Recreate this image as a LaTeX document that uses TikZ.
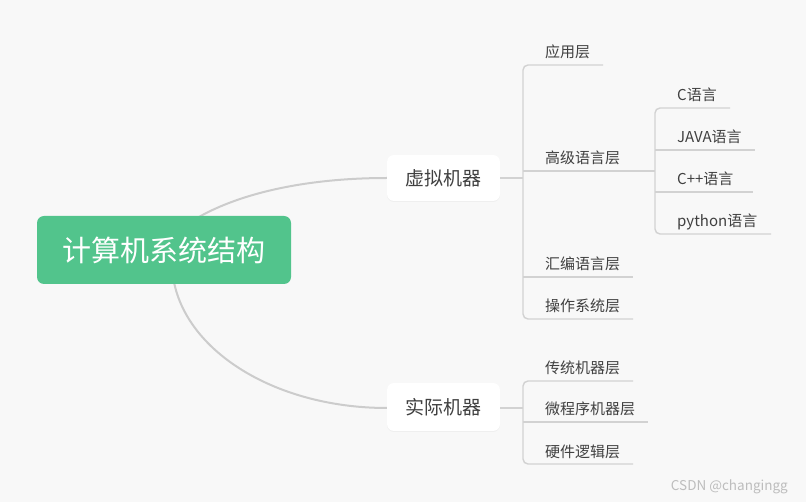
\documentclass[tikz,border=0pt]{standalone}
\usepackage{fontspec}
\setmainfont{Noto Sans CJK SC}
\usetikzlibrary{shadows}
\definecolor{bgc}{HTML}{F8F8F8}
\definecolor{rootg}{HTML}{52C48C}
\definecolor{linec}{HTML}{D2D2D2}
\definecolor{curvec}{HTML}{CCCCCC}
\definecolor{txtc}{HTML}{404040}
\definecolor{wmc}{HTML}{BDBDBD}
\tikzset{
  rootbox/.style={fill=rootg, rounded corners=7pt, minimum width=254pt, minimum height=68pt, text=white, font=\fontsize{29}{33}\selectfont, inner sep=0pt},
  midbox/.style={fill=white, rounded corners=7pt, minimum width=113pt, text=txtc, font=\fontsize{19}{23}\selectfont, inner sep=0pt, drop shadow={opacity=0.07, shadow xshift=0pt, shadow yshift=-1pt}},
  leaf/.style={anchor=base west, text=txtc, font=\fontsize{15}{18}\selectfont, inner sep=0pt},
  conn/.style={draw=linec, line width=1.4pt, rounded corners=5pt},
  curve/.style={draw=curvec, line width=2pt},
  wm/.style={text=wmc, font=\fontsize{13.5}{16}\selectfont, inner sep=0pt, anchor=east}
}
\begin{document}
\begin{tikzpicture}[x=1pt, y=-1pt]
\fill[bgc] (0,0) rectangle (806,502);
\useasboundingbox (0,0) rectangle (806,502);

% main curves (drawn first, boxes on top)
\coordinate (ca) at (172,236);
\coordinate (cb) at (172,262);
\draw[curve] (ca) .. controls (212,200) and (290,178) .. (387,178);
\draw[curve] (cb) .. controls (172,343) and (268,408) .. (387,408);

% boxes
\node[rootbox] (root) at (164,250) {计算机系统结构};
\node[midbox, minimum height=46pt] (vm) at (443.5,178) {虚拟机器};
\node[midbox, minimum height=48pt] (rm) at (443.5,407) {实际机器};

% virtual machine children
\node[leaf] (a1) at (545,58) {应用层};
\node[leaf] (a2) at (545,164) {高级语言层};
\node[leaf] (a3) at (545,270) {汇编语言层};
\node[leaf] (a4) at (545,312) {操作系统层};

\draw[conn] (vm.east |- 0,178) -- (523,178);
\draw[conn] (603,65) -- (523,65) -- (523,319) -- (633,319);
\draw[conn] (523,171) -- (655,171);
\draw[conn] (523,277) -- (633,277);

% high-level language children
\node[leaf] (b1) at (677,101) {C语言};
\node[leaf] (b2) at (677,143) {JAVA语言};
\node[leaf] (b3) at (677,185) {C++语言};
\node[leaf] (b4) at (677,227) {python语言};
\draw[conn] (730,108) -- (655,108) -- (655,234) -- (771,234);
\draw[conn] (655,150) -- (755,150);
\draw[conn] (655,192) -- (753,192);

% real machine children
\node[leaf] (c1) at (545,374) {传统机器层};
\node[leaf] (c2) at (545,415) {微程序机器层};
\node[leaf] (c3) at (545,457) {硬件逻辑层};
\draw[conn] (rm.east |- 0,408) -- (523,408);
\draw[conn] (633,381) -- (523,381) -- (523,464) -- (633,464);
\draw[conn] (523,422) -- (648,422);

% watermark
\node[wm] (wmark) at (788,487) {CSDN @changingg};
\end{tikzpicture}
\end{document}
